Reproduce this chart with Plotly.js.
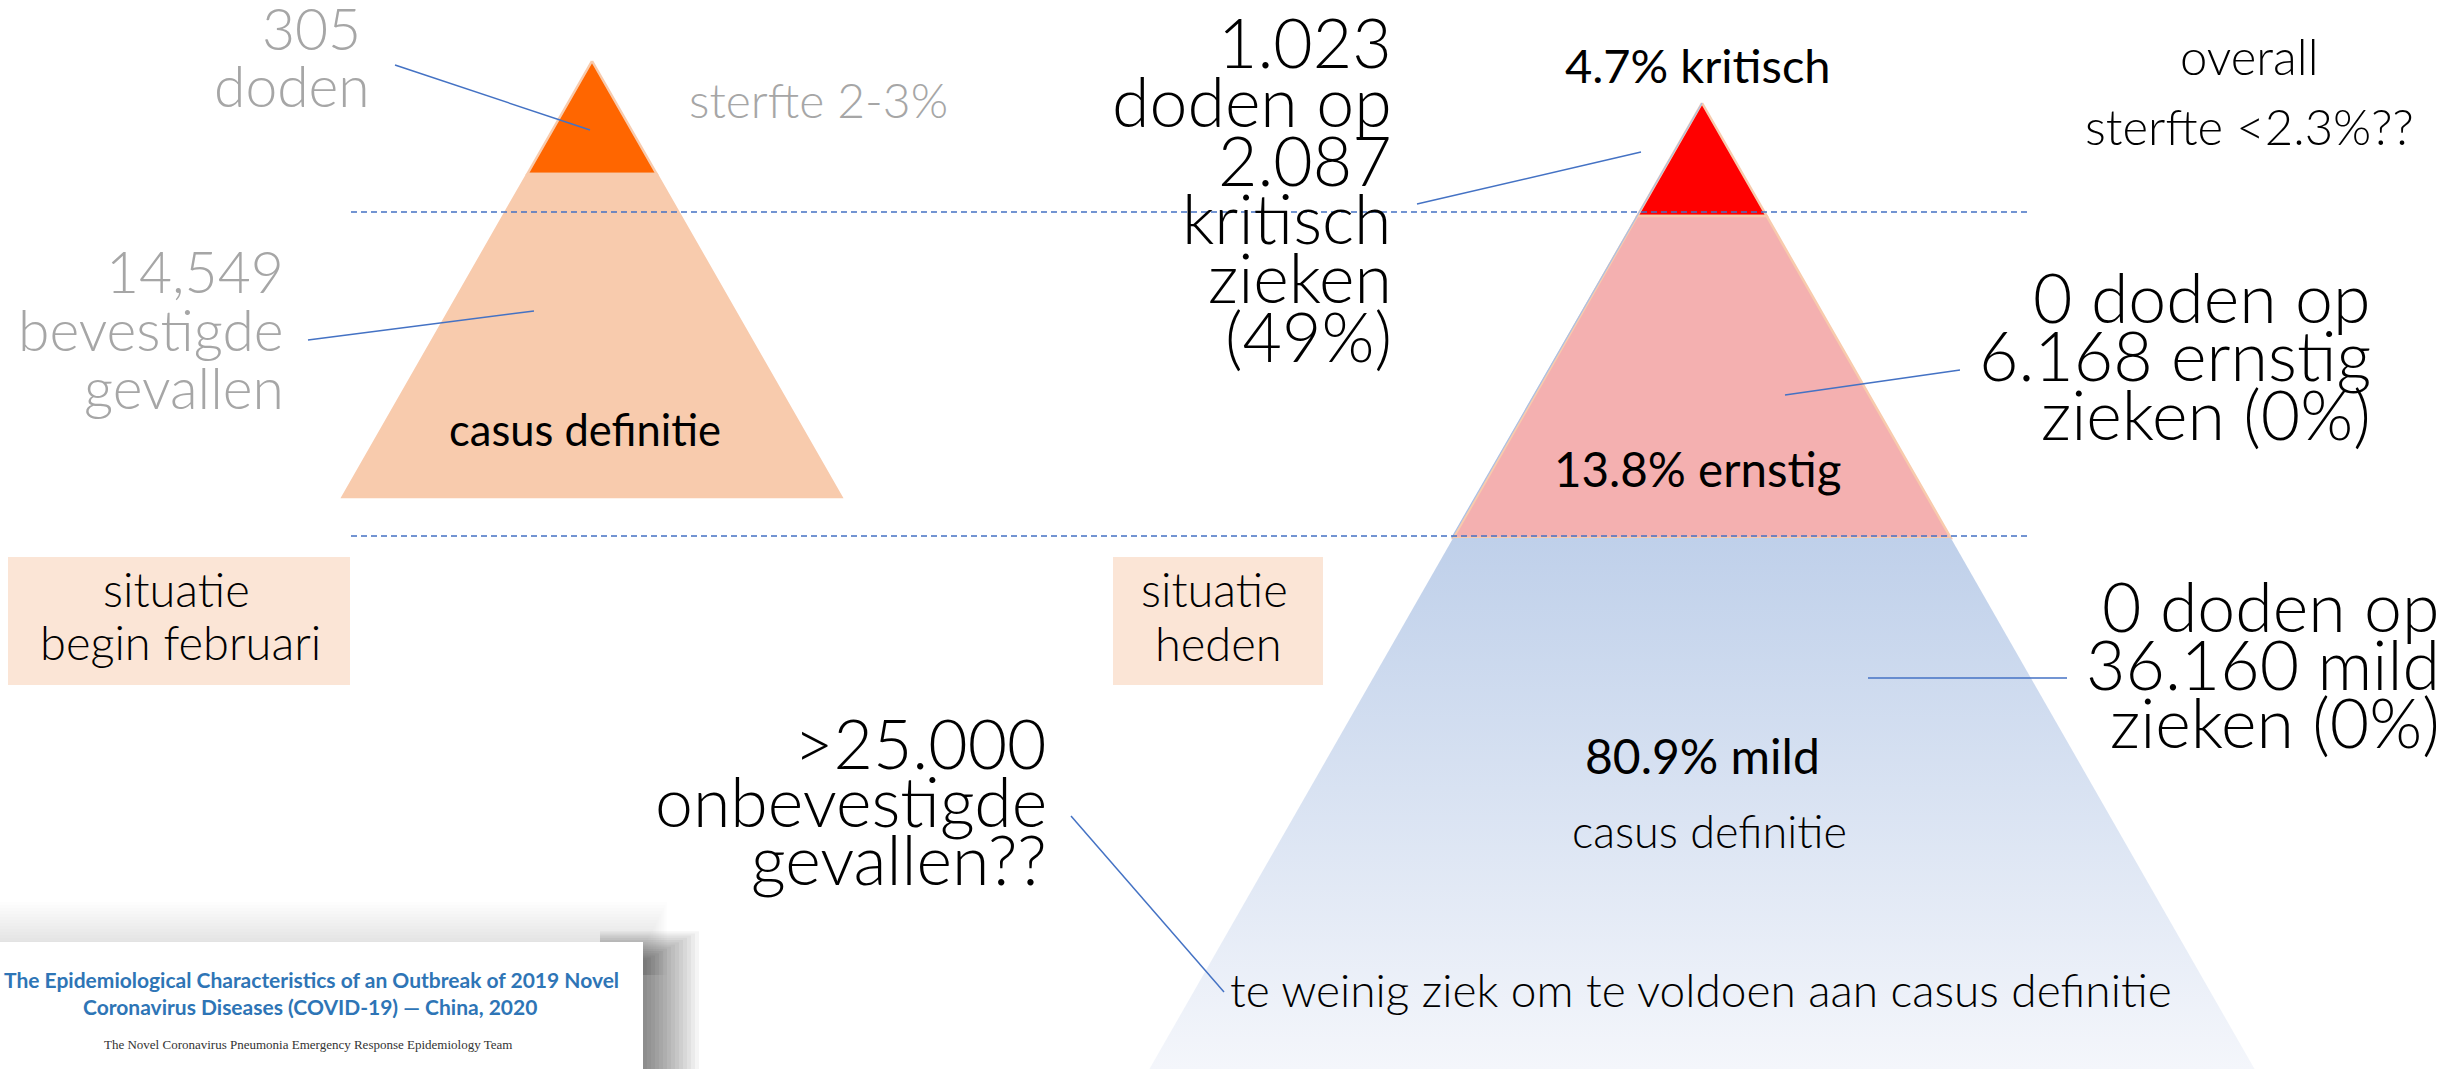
<!DOCTYPE html>
<html><head><meta charset="utf-8">
<script src="https://cdn.plot.ly/plotly-3.0.1.min.js"></script>
<style>html,body{margin:0;padding:0;background:#fff;overflow:hidden}#chart{width:2461px;height:1069px}</style>
</head><body><div id="chart"></div>
<script>
// ---------------- data (text content & values) ----------------
const leftTiers = ['doden', 'bevestigde gevallen'];
const rightTiers = ['kritisch', 'ernstig', 'mild'];
const rightTierLabels = ['4.7% kritisch', '13.8% ernstig', '80.9% mild'];
const leftNotes = [['305', 'doden'], ['14,549', 'bevestigde', 'gevallen']];
const leftRateNote = 'sterfte 2-3%';
const leftCaseDef = 'casus definitie';
const rightNotes = [
  ['1.023', 'doden op', '2.087', 'kritisch', 'zieken', '(49%)'],
  ['0 doden op', '6.168 ernstig', 'zieken (0%)'],
  ['0 doden op', '36.160 mild', 'zieken (0%)'],
  ['>25.000', 'onbevestigde', 'gevallen??']
];
const overallNote = ['overall', 'sterfte <2.3%??'];
const situationLabels = [['situatie', 'begin februari'], ['situatie', 'heden']];
const rightCaseDef = ['casus definitie', 'te weinig ziek om te voldoen aan casus definitie'];
const sourceTitle = ['The Epidemiological Characteristics of an Outbreak of 2019 Novel', 'Coronavirus Diseases (COVID-19) \u2014 China, 2020'];
const sourceAuthor = 'The Novel Coronavirus Pneumonia Emergency Response Epidemiology Team';

// ---------------- geometry & style ----------------
const G = {
  slope: 0.572,
  left:  {apexX: 592,  apexY: 61,  bottoms: [174, 497], colors: ['#FF6600', '#F8CBAD']},
  right: {apexX: 1702, apexY: 103, bottoms: [216, 538, 1090], colors: ['#FF0000', '#F4B0B0', null]}
};
const GRAY = '#A6A6A6', LEAD = '#4472C4';

function tierPoly(p, top, bot) {
  const hw = y => G.slope * (y - p.apexY);
  return {x: [p.apexX - hw(top), p.apexX + hw(top), p.apexX + hw(bot), p.apexX - hw(bot), p.apexX - hw(top)],
          y: [top, top, bot, bot, top]};
}

const traces = [];
function addPyramid(p, names) {
  let top = p.apexY;
  p.bottoms.forEach((bot, i) => {
    const poly = tierPoly(p, top, bot);
    const t = {type: 'scatter', mode: 'lines', x: poly.x, y: poly.y, fill: 'toself', name: names[i],
               hoverinfo: 'skip', line: {color: '#F8CBAD', width: 2.5}};
    if (p.colors[i]) t.fillcolor = p.colors[i];
    else {
      t.fillcolor = '#D5DEF0';
      t.line = {color: 'rgba(0,0,0,0)', width: 0};
      t.fillgradient = {type: 'vertical', colorscale: [[0, '#BFD0EA'], [1, '#F4F6FB']], start: top, stop: 1069};
    }
    traces.push(t);
    top = bot;
  });
}
addPyramid(G.left, leftTiers);
addPyramid(G.right, rightTiers);
// thin blue rim on left edge of upper right tiers
(function(){
  const p = G.right, b = p.bottoms[1];
  traces.push({type: 'scatter', mode: 'lines', hoverinfo: 'skip',
    x: [p.apexX, p.apexX - G.slope * (b - p.apexY) - 1.5], y: [p.apexY, b],
    line: {color: '#A9C0E6', width: 1.2}});
})();

// ---------------- shapes ----------------
const shapes = [];
// dashed guides
[212, 536].forEach(y => shapes.push({type: 'line', xref: 'x', yref: 'y', x0: 351, x1: 2028, y0: y, y1: y,
  line: {color: LEAD, width: 1.5, dash: '6px,4px'}, layer: 'above'}));
// leader lines
[[395, 65, 590, 130], [308, 340, 534, 311], [1417, 204, 1641, 152], [1785, 395, 1960, 370],
 [1868, 678, 2067, 678], [1071, 816, 1224, 992]].forEach(l => shapes.push({type: 'line', xref: 'x', yref: 'y',
  x0: l[0], y0: l[1], x1: l[2], y1: l[3], line: {color: LEAD, width: 1.5}, layer: 'above'}));
// situation boxes
[[8, 557, 350, 685], [1113, 557, 1323, 685]].forEach(b => shapes.push({type: 'rect', xref: 'x', yref: 'y',
  x0: b[0], y0: b[1], x1: b[2], y1: b[3], fillcolor: '#FBE5D6', line: {width: 0}, layer: 'below'}));
// source paper: soft shadow + sheet
for (let i = 1; i <= 14; i++) {
  shapes.push({type: 'rect', xref: 'x', yref: 'y', x0: -10, x1: 645 + 1.6 * i, y0: 944 - 3 * i, y1: 975,
    fillcolor: 'rgba(0,0,0,0.008)', line: {width: 0}, layer: 'above'});
  shapes.push({type: 'rect', xref: 'x', yref: 'y', x0: 600, x1: 643 + 4 * i, y0: 962 - 2.2 * i, y1: 1080,
    fillcolor: 'rgba(0,0,0,0.04)', line: {width: 0}, layer: 'above'});
}
shapes.push({type: 'rect', xref: 'x', yref: 'y', x0: -10, x1: 643, y0: 942, y1: 1080,
  fillcolor: '#FFFFFF', line: {width: 0}, layer: 'above'});

// ---------------- text ----------------
const annotations = [];
function txt(text, x, baseline, size, o = {}) {
  annotations.push({text, x, y: baseline - 0.39 * size, xref: 'x', yref: 'y', xanchor: o.anchor || 'center',
    yanchor: 'middle', showarrow: false, borderpad: 0,
    font: {family: o.family || 'Lato', size, color: o.color || '#000000', weight: o.weight || 300}});
}
// left side
txt(leftNotes[0][0], 311, 50, 57, {color: GRAY});
txt(leftNotes[0][1], 292, 107, 57, {color: GRAY});
leftNotes[1].forEach((s, i) => txt(s, 285, 293 + 58 * i, 57, {anchor: 'right', color: GRAY}));
txt(leftRateNote, 818, 118, 48, {color: GRAY});
txt(leftCaseDef, 585, 446, 43.5, {weight: 400});
txt(situationLabels[0][0], 176, 607, 47);
txt(situationLabels[0][1], 180, 660, 47);
txt(situationLabels[1][0], 1214, 607, 47);
txt(situationLabels[1][1], 1218, 661, 47);
// right side
txt(rightTierLabels[0], 1698, 83, 47, {weight: 400});
txt(rightTierLabels[1], 1698, 487, 47.5, {weight: 400});
txt(rightTierLabels[2], 1702, 774, 48, {weight: 400});
rightNotes[0].forEach((s, i) => txt(s, 1393, 68 + 58.8 * i, 68, {anchor: 'right'}));
rightNotes[1].forEach((s, i) => txt(s, 2372, 323 + 58.5 * i, 68, {anchor: 'right'}));
rightNotes[2].forEach((s, i) => txt(s, 2441, 632 + 58 * i, 68, {anchor: 'right'}));
rightNotes[3].forEach((s, i) => txt(s, 1048, 769 + 58 * i, 68, {anchor: 'right'}));
txt(overallNote[0], 2249, 75, 49);
txt(overallNote[1], 2249, 145, 49);
txt(rightCaseDef[0], 1709, 849, 45);
txt(rightCaseDef[1], 1701, 1007, 46);
// source paper
txt(sourceTitle[0], 311, 988, 21, {weight: 700, color: '#2E75B6'});
txt(sourceTitle[1], 310, 1015, 21, {weight: 700, color: '#2E75B6'});
txt(sourceAuthor, 308, 1050, 13, {family: 'Liberation Serif', weight: 400, color: '#333333'});

const layout = {
  width: 2461, height: 1069, margin: {l: 0, r: 0, t: 0, b: 0},
  paper_bgcolor: '#FFFFFF', plot_bgcolor: '#FFFFFF', showlegend: false,
  xaxis: {range: [0, 2461], visible: false, fixedrange: true},
  yaxis: {range: [1069, 0], visible: false, fixedrange: true},
  shapes, annotations
};
Plotly.newPlot('chart', traces, layout, {displayModeBar: false, staticPlot: true});
</script></body></html>
